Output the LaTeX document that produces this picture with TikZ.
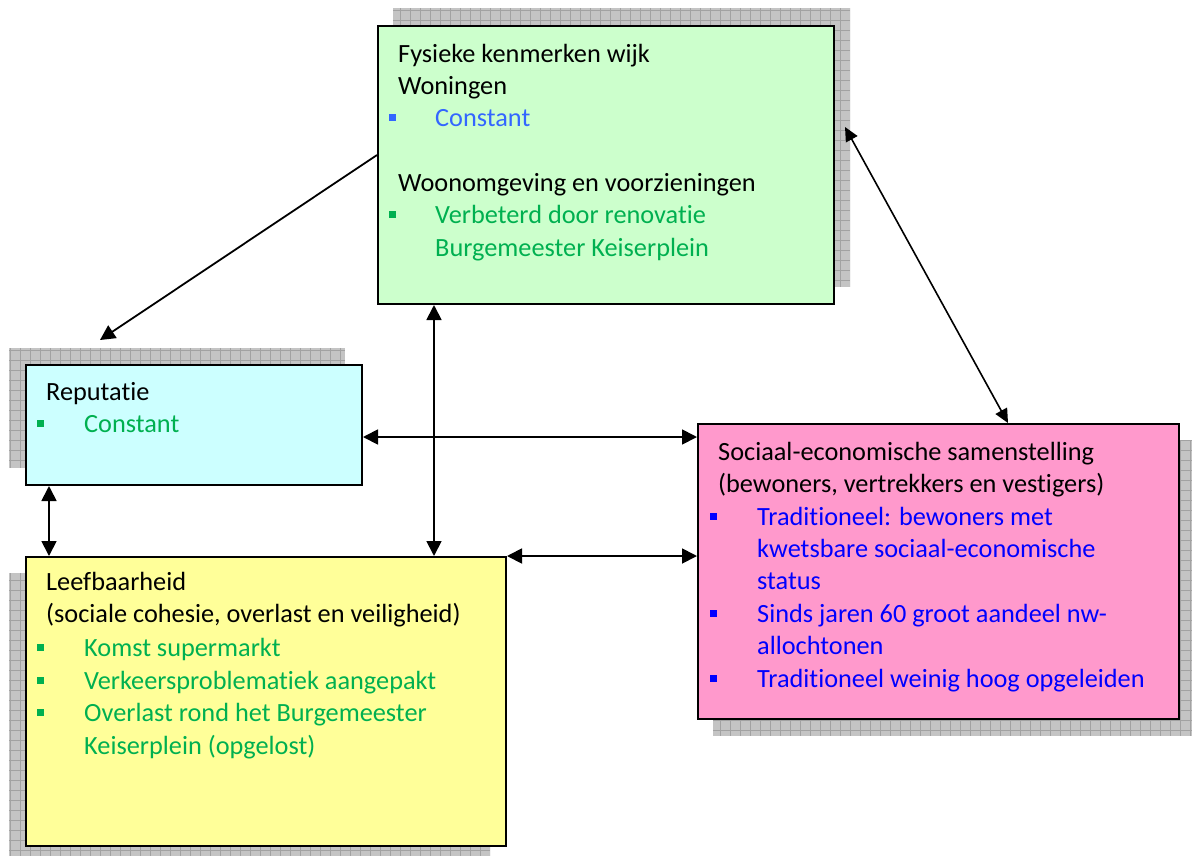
\documentclass[tikz,border=0pt]{standalone}
\usepackage{fontspec}
\setmainfont[RawFeature=-liga]{Carlito}
\usetikzlibrary{arrows.meta,calc}
\definecolor{fysfill}{HTML}{CCFFCC}
\definecolor{repfill}{HTML}{CCFFFF}
\definecolor{socfill}{HTML}{FF99CC}
\definecolor{leefill}{HTML}{FFFF99}
\definecolor{shfill}{HTML}{C4C4C4}
\definecolor{shline}{HTML}{A2A2A2}
\definecolor{txtgreen}{HTML}{00B050}
\definecolor{txtlblue}{HTML}{3366FF}
\definecolor{txtblue}{HTML}{0000FF}
% hatched drop shadow: grey fill with a 10-unit grid
\newcommand{\dropshadow}[4]{%
  \begin{scope}
    \clip (#1,#2) rectangle (#3,#4);
    \fill[shfill] (#1,#2) rectangle (#3,#4);
    \foreach \gx in {0,10,...,1200} {\draw[shline,line width=0.8pt] (\gx,#2) -- (\gx,#4);}
    \foreach \gy in {0,10,...,860} {\draw[shline,line width=0.8pt] (#1,\gy) -- (#3,\gy);}
  \end{scope}}
% bullet square, with its lower edge 5 units above the baseline
\newcommand{\sqbullet}[3]{\fill[#3] (#1,#2-5) rectangle (#1+7,#2-12);}
\begin{document}
\begin{tikzpicture}[x=1pt,y=-1pt,
  box/.style={draw=black,line width=2pt,anchor=north west,inner sep=0pt},
  txt/.style={anchor=base west,inner sep=0pt,font=\fontsize{26.3}{30}\selectfont},
  link/.style={line width=1.8pt,{Triangle[length=15pt,width=15pt]}-{Triangle[length=15pt,width=15pt]}},
  slink/.style={line width=1.6pt,{Triangle[length=14pt,width=13pt]}-{Triangle[length=14pt,width=13pt]}},
  onelink/.style={line width=1.8pt,-{Triangle[length=15pt,width=15pt]}}]
\useasboundingbox (0,0) rectangle (1192,855);

% shadows
\dropshadow{393}{8}{850}{287}
\dropshadow{9}{348}{345}{468}
\dropshadow{713}{440}{1194}{736}
\dropshadow{9}{573}{490}{856}

% boxes
\node[box,fill=fysfill,minimum width=456pt,minimum height=278pt] (fys) at (377,25) {};
\node[box,fill=repfill,minimum width=336pt,minimum height=120pt] (rep) at (25,364) {};
\node[box,fill=socfill,minimum width=481pt,minimum height=295pt] (soc) at (697,423) {};
\node[box,fill=leefill,minimum width=480pt,minimum height=289pt] (lee) at (25,556) {};

% physical features
\node[txt] (f1) at (398,62) {Fysieke kenmerken wijk};
\node[txt] (f2) at (398,94) {Woningen};
\sqbullet{389}{126}{txtlblue}
\node[txt,text=txtlblue] (f3) at (435,126) {Constant};
\node[txt] (f4) at (398,191) {Woonomgeving en voorzieningen};
\sqbullet{389}{223}{txtgreen}
\node[txt,text=txtgreen] (f5) at (435,223) {Verbeterd door renovatie};
\node[txt,text=txtgreen] (f6) at (435,256) {Burgemeester Keiserplein};

% reputation
\node[txt] (r1) at (46,400) {Reputatie};
\sqbullet{37}{432}{txtgreen}
\node[txt,text=txtgreen] (r2) at (84,432) {Constant};

% social-economic composition
\node[txt] (s1) at (718,460) {Sociaal-economische samenstelling};
\node[txt] (s2) at (718,492) {(bewoners, vertrekkers en vestigers)};
\sqbullet{710}{525}{txtblue}
\node[txt,text=txtblue] (s3) at (757,525) {Traditioneel: bewoners met};
\node[txt,text=txtblue] (s4) at (757,557) {kwetsbare sociaal-economische};
\node[txt,text=txtblue] (s5) at (757,589) {status};
\sqbullet{710}{622}{txtblue}
\node[txt,text=txtblue] (s6) at (757,622) {Sinds jaren 60 groot aandeel nw-};
\node[txt,text=txtblue] (s7) at (757,654) {allochtonen};
\sqbullet{710}{687}{txtblue}
\node[txt,text=txtblue] (s8) at (757,687) {Traditioneel weinig hoog opgeleiden};

% liveability
\node[txt] (l1) at (46,590) {Leefbaarheid};
\node[txt] (l2) at (46,622) {(sociale cohesie, overlast en veiligheid)};
\sqbullet{37}{656}{txtgreen}
\node[txt,text=txtgreen] (l3) at (84,656) {Komst supermarkt};
\sqbullet{37}{689}{txtgreen}
\node[txt,text=txtgreen] (l4) at (84,689) {Verkeersproblematiek aangepakt};
\sqbullet{37}{721}{txtgreen}
\node[txt,text=txtgreen] (l5) at (84,721) {Overlast rond het Burgemeester};
\node[txt,text=txtgreen] (l6) at (84,754) {Keiserplein (opgelost)};

% connectors
\coordinate (repabove) at (100,340);
\coordinate (fysshadow) at (845,127);
\draw[onelink] ([yshift=-130pt]fys.north west) -- (repabove);
\draw[slink] (fysshadow) -- ([xshift=311pt]soc.north west);
\draw[link] ([yshift=-12pt]rep.east) -- ([yshift=-12pt]rep.east -| soc.west);
\draw[link] ([xshift=57pt]fys.south west) -- ([xshift=57pt]fys.south west |- lee.north);
\draw[link] (lee.north east) -- (lee.north east -| soc.west);
\draw[link] ([xshift=24pt]rep.south west) -- ([xshift=24pt]rep.south west |- lee.north);
\end{tikzpicture}
\end{document}
